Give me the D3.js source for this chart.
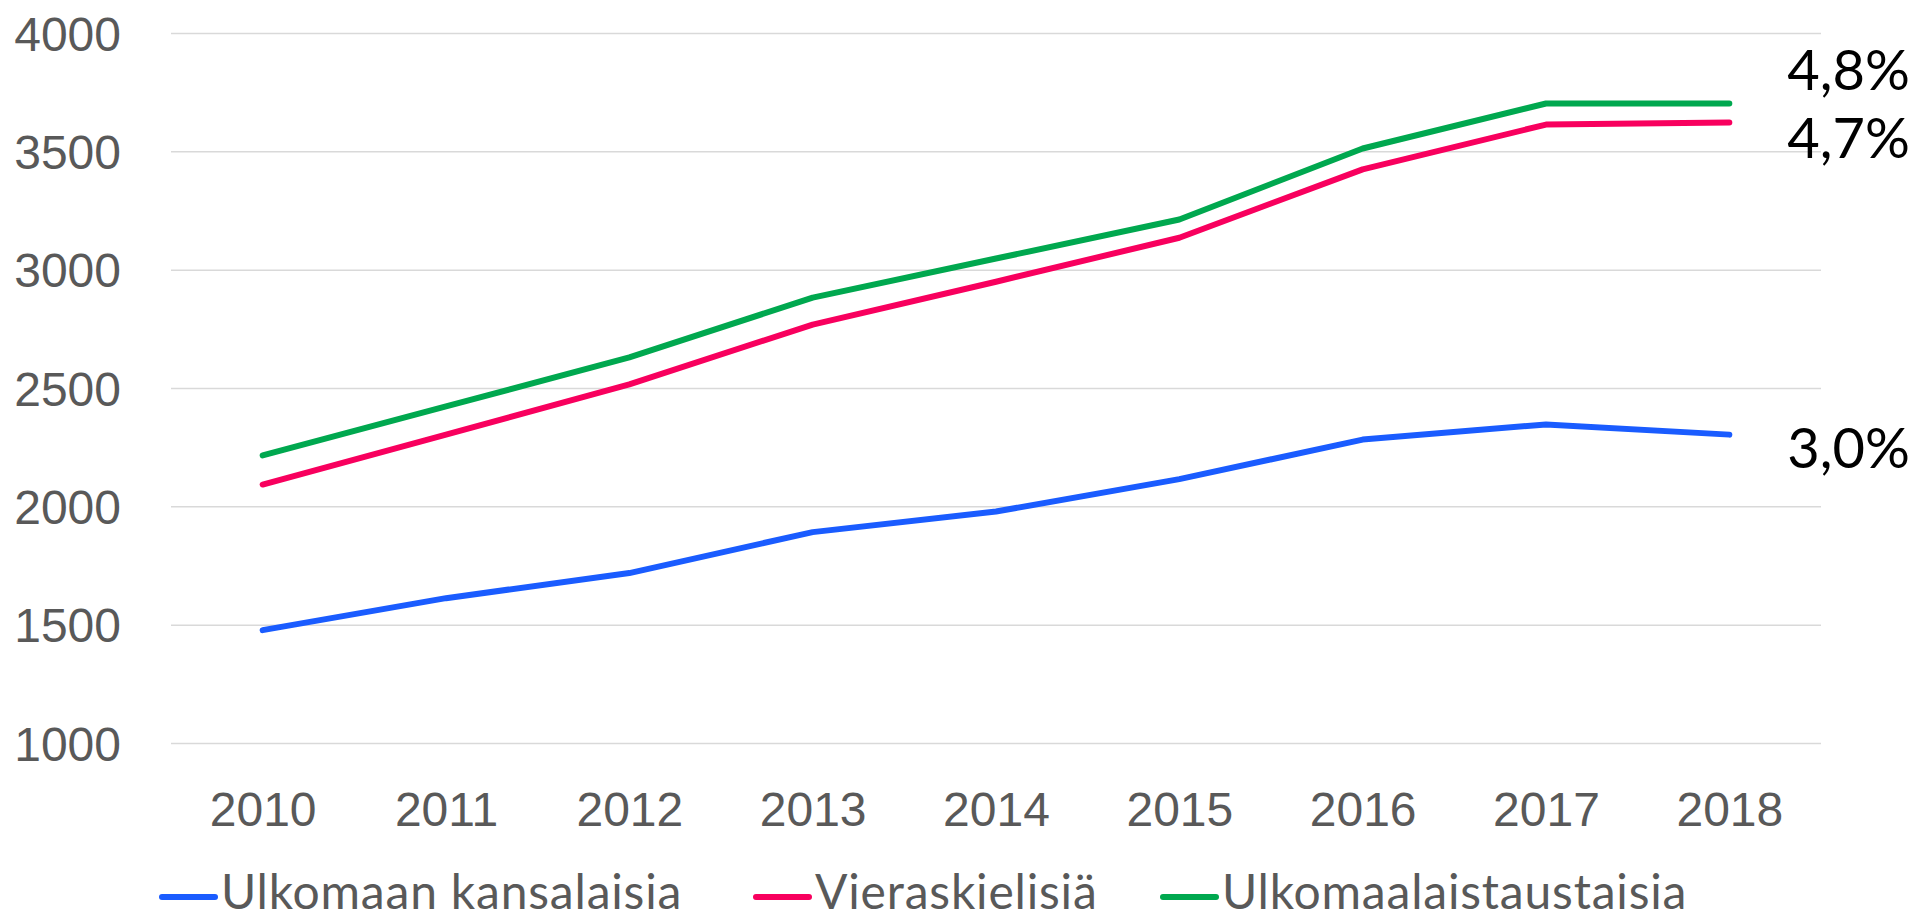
<!DOCTYPE html>
<html>
<head>
<meta charset="utf-8">
<script src="https://cdn.jsdelivr.net/npm/d3@7"></script>
<style>
  body { margin: 0; background: #fff; }
  svg { display: block; font-family: Lato, "Open Sans", sans-serif; }
</style>
</head>
<body>
<svg></svg>
<script>
// data
let years = ['2010', '2011', '2012', '2013', '2014', '2015', '2016', '2017', '2018'];
let kansalaisia = [1477, 1612, 1718, 1891, 1978, 2115, 2282, 2346, 2303];
let vieraskielisia = [2092, 2303, 2515, 2768, 2949, 3135, 3424, 3613, 3622];
let taustaisia = [2215, 2422, 2629, 2882, 3047, 3212, 3512, 3702, 3702];
let yTicks = [1000, 1500, 2000, 2500, 3000, 3500, 4000];
let seriesNames = ['Ulkomaan kansalaisia', 'Vieraskielisiä', 'Ulkomaalaistaustaisia'];
let endLabels = ['3,0%', '4,7%', '4,8%'];

let colors = ['#1a5cff', '#f8005e', '#00a84f'];
let seriesValues = [kansalaisia, vieraskielisia, taustaisia];

let width = 1916;
let height = 920;
let plotLeft = 171;
let plotRight = 1821;
let plotTop = 33;
let plotBottom = 743;

let svg = d3.select('svg').attr('width', width).attr('height', height);

let x = d3.scalePoint().domain(years).range([plotLeft, plotRight]).padding(0.5);
let y = d3.scaleLinear().domain([1000, 4000]).range([plotBottom, plotTop]);

// y axis + gridlines
let yAxis = svg
  .append('g')
  .attr('transform', `translate(${plotLeft},0)`)
  .call(d3.axisLeft(y).tickValues(yTicks).tickSize(-(plotRight - plotLeft)).tickPadding(50).tickFormat(d3.format('d')));
yAxis.select('.domain').remove();
yAxis.selectAll('line').attr('stroke', '#d9d9d9').attr('stroke-width', 1.5);
yAxis.selectAll('text').attr('fill', '#595959').style('font-size', '48px').attr('dy', '0.36em');

// x axis
let xAxis = svg
  .append('g')
  .attr('transform', `translate(0,${plotBottom})`)
  .call(d3.axisBottom(x).tickSize(0).tickPadding(49));
xAxis.select('.domain').remove();
xAxis.selectAll('text').attr('fill', '#595959').style('font-size', '48px');

// lines
let line = d3
  .line()
  .x((d, i) => x(years[i]))
  .y((d) => y(d));

svg
  .append('g')
  .selectAll('path')
  .data(seriesValues)
  .enter()
  .append('path')
  .attr('d', (d) => line(d))
  .attr('fill', 'none')
  .attr('stroke', (d, i) => colors[i])
  .attr('stroke-width', 6)
  .attr('stroke-linecap', 'round')
  .attr('stroke-linejoin', 'round');

// end labels, nudged off the line ends like in the original
let labelShift = [33, 36, -14];
svg
  .append('g')
  .selectAll('text')
  .data(endLabels)
  .enter()
  .append('text')
  .attr('x', x(years[years.length - 1]) + 58)
  .attr('y', (d, i) => y(seriesValues[i][seriesValues[i].length - 1]) + labelShift[i])
  .attr('fill', '#000')
  .style('font-size', '56px')
  .text((d) => d);

// legend
let legendX = [162, 756, 1163];
let legend = svg.append('g').attr('transform', 'translate(0,897)');
seriesNames.forEach((name, i) => {
  let item = legend.append('g');
  item
    .append('line')
    .attr('x1', legendX[i])
    .attr('x2', legendX[i] + 53)
    .attr('stroke', colors[i])
    .attr('stroke-width', 6)
    .attr('stroke-linecap', 'round');
  item
    .append('text')
    .attr('x', legendX[i] + 59)
    .attr('y', 12)
    .attr('fill', '#595959')
    .style('font-size', '48px')
    .style('letter-spacing', '0.8px')
    .text(name);
});
</script>
</body>
</html>
